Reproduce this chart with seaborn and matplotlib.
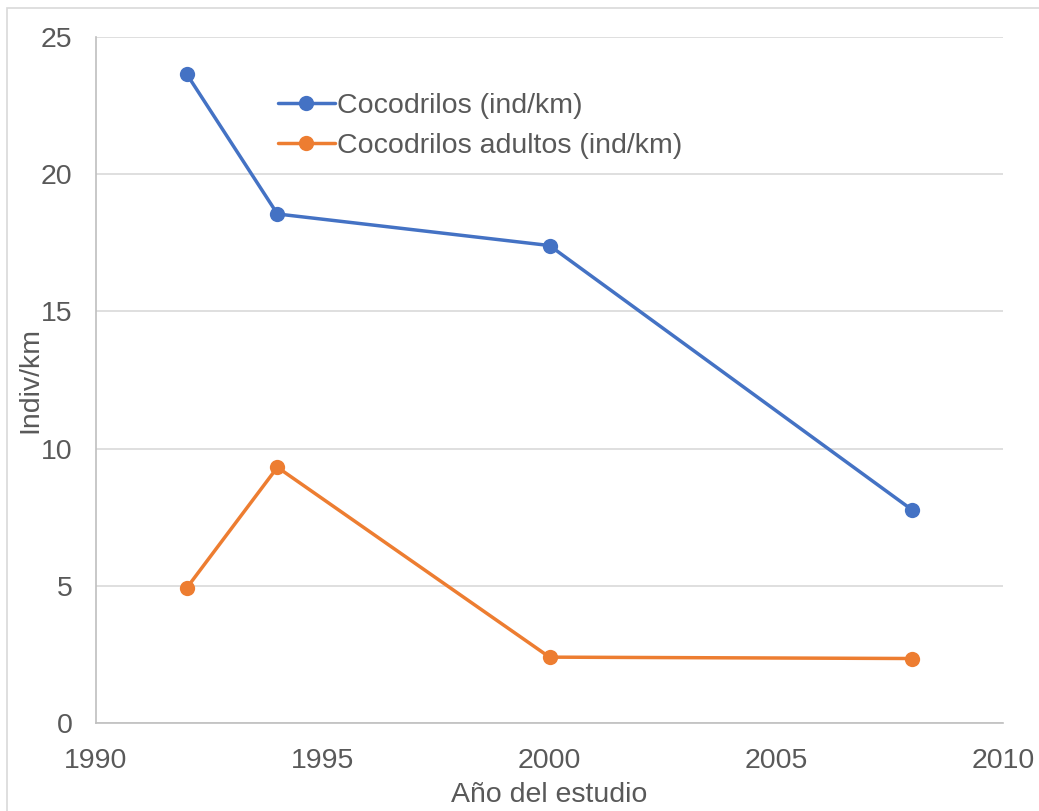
import matplotlib
matplotlib.use("Agg")
import matplotlib.pyplot as plt
import seaborn as sns
import pandas as pd
from matplotlib.patches import Rectangle

years = [1992, 1994, 2000, 2008]
cocodrilos = [23.65, 18.55, 17.4, 7.76]
adultos = [4.92, 9.32, 2.4, 2.35]
series_names = ["Cocodrilos (ind/km)", "Cocodrilos adultos (ind/km)"]
x_ticks = [1990, 1995, 2000, 2005, 2010]
y_ticks = [0, 5, 10, 15, 20, 25]

df = pd.DataFrame({
    "year": years * 2,
    "value": cocodrilos + adultos,
    "serie": [series_names[0]] * len(years) + [series_names[1]] * len(years),
})

sns.set_theme(style="white")
plt.rcParams["font.family"] = ["Liberation Sans", "DejaVu Sans"]
text_color = "#595959"
fs = 20.5

fig = plt.figure(figsize=(10.39, 8.11), dpi=100)
ax = fig.add_axes([0.0924, 0.1085, 0.9654 - 0.0924, 0.9544 - 0.1085])

sns.lineplot(data=df, x="year", y="value", hue="serie",
             palette=["#4472C4", "#ED7D31"], marker="o", markersize=11,
             markeredgewidth=0, linewidth=2.5, ax=ax, legend=True)

ax.set_xlim(1990, 2010)
ax.set_ylim(0, 25)
ax.set_xticks(x_ticks)
ax.set_yticks(y_ticks)
ax.tick_params(axis="both", labelsize=fs, colors=text_color, length=0)
ax.tick_params(axis="x", pad=18)
ax.tick_params(axis="y", pad=17)
ax.grid(axis="y", color="#d9d9d9", linewidth=1.2)
ax.set_axisbelow(True)
for side in ["top", "right"]:
    ax.spines[side].set_visible(False)
for side in ["left", "bottom"]:
    ax.spines[side].set_color("#bfbfbf")
    ax.spines[side].set_linewidth(1.2)

ax.set_xlabel("Año del estudio", fontsize=fs, color=text_color, labelpad=6)
ax.set_ylabel("Indiv/km", fontsize=fs, color=text_color, labelpad=-2)

leg = ax.legend(loc="upper left", bbox_to_anchor=(0.188, 0.935), frameon=False,
                fontsize=fs, handlelength=2.0, handletextpad=0.08,
                labelspacing=0.5, borderaxespad=0)
for t in leg.get_texts():
    t.set_color(text_color)

fig.patches.append(Rectangle((7 / 1039, -0.01), 1.0, 1 - 8 / 811 + 0.01,
                             transform=fig.transFigure, fill=False,
                             edgecolor="#d9d9d9", linewidth=1.2))

fig.savefig("out.png", dpi=100)
